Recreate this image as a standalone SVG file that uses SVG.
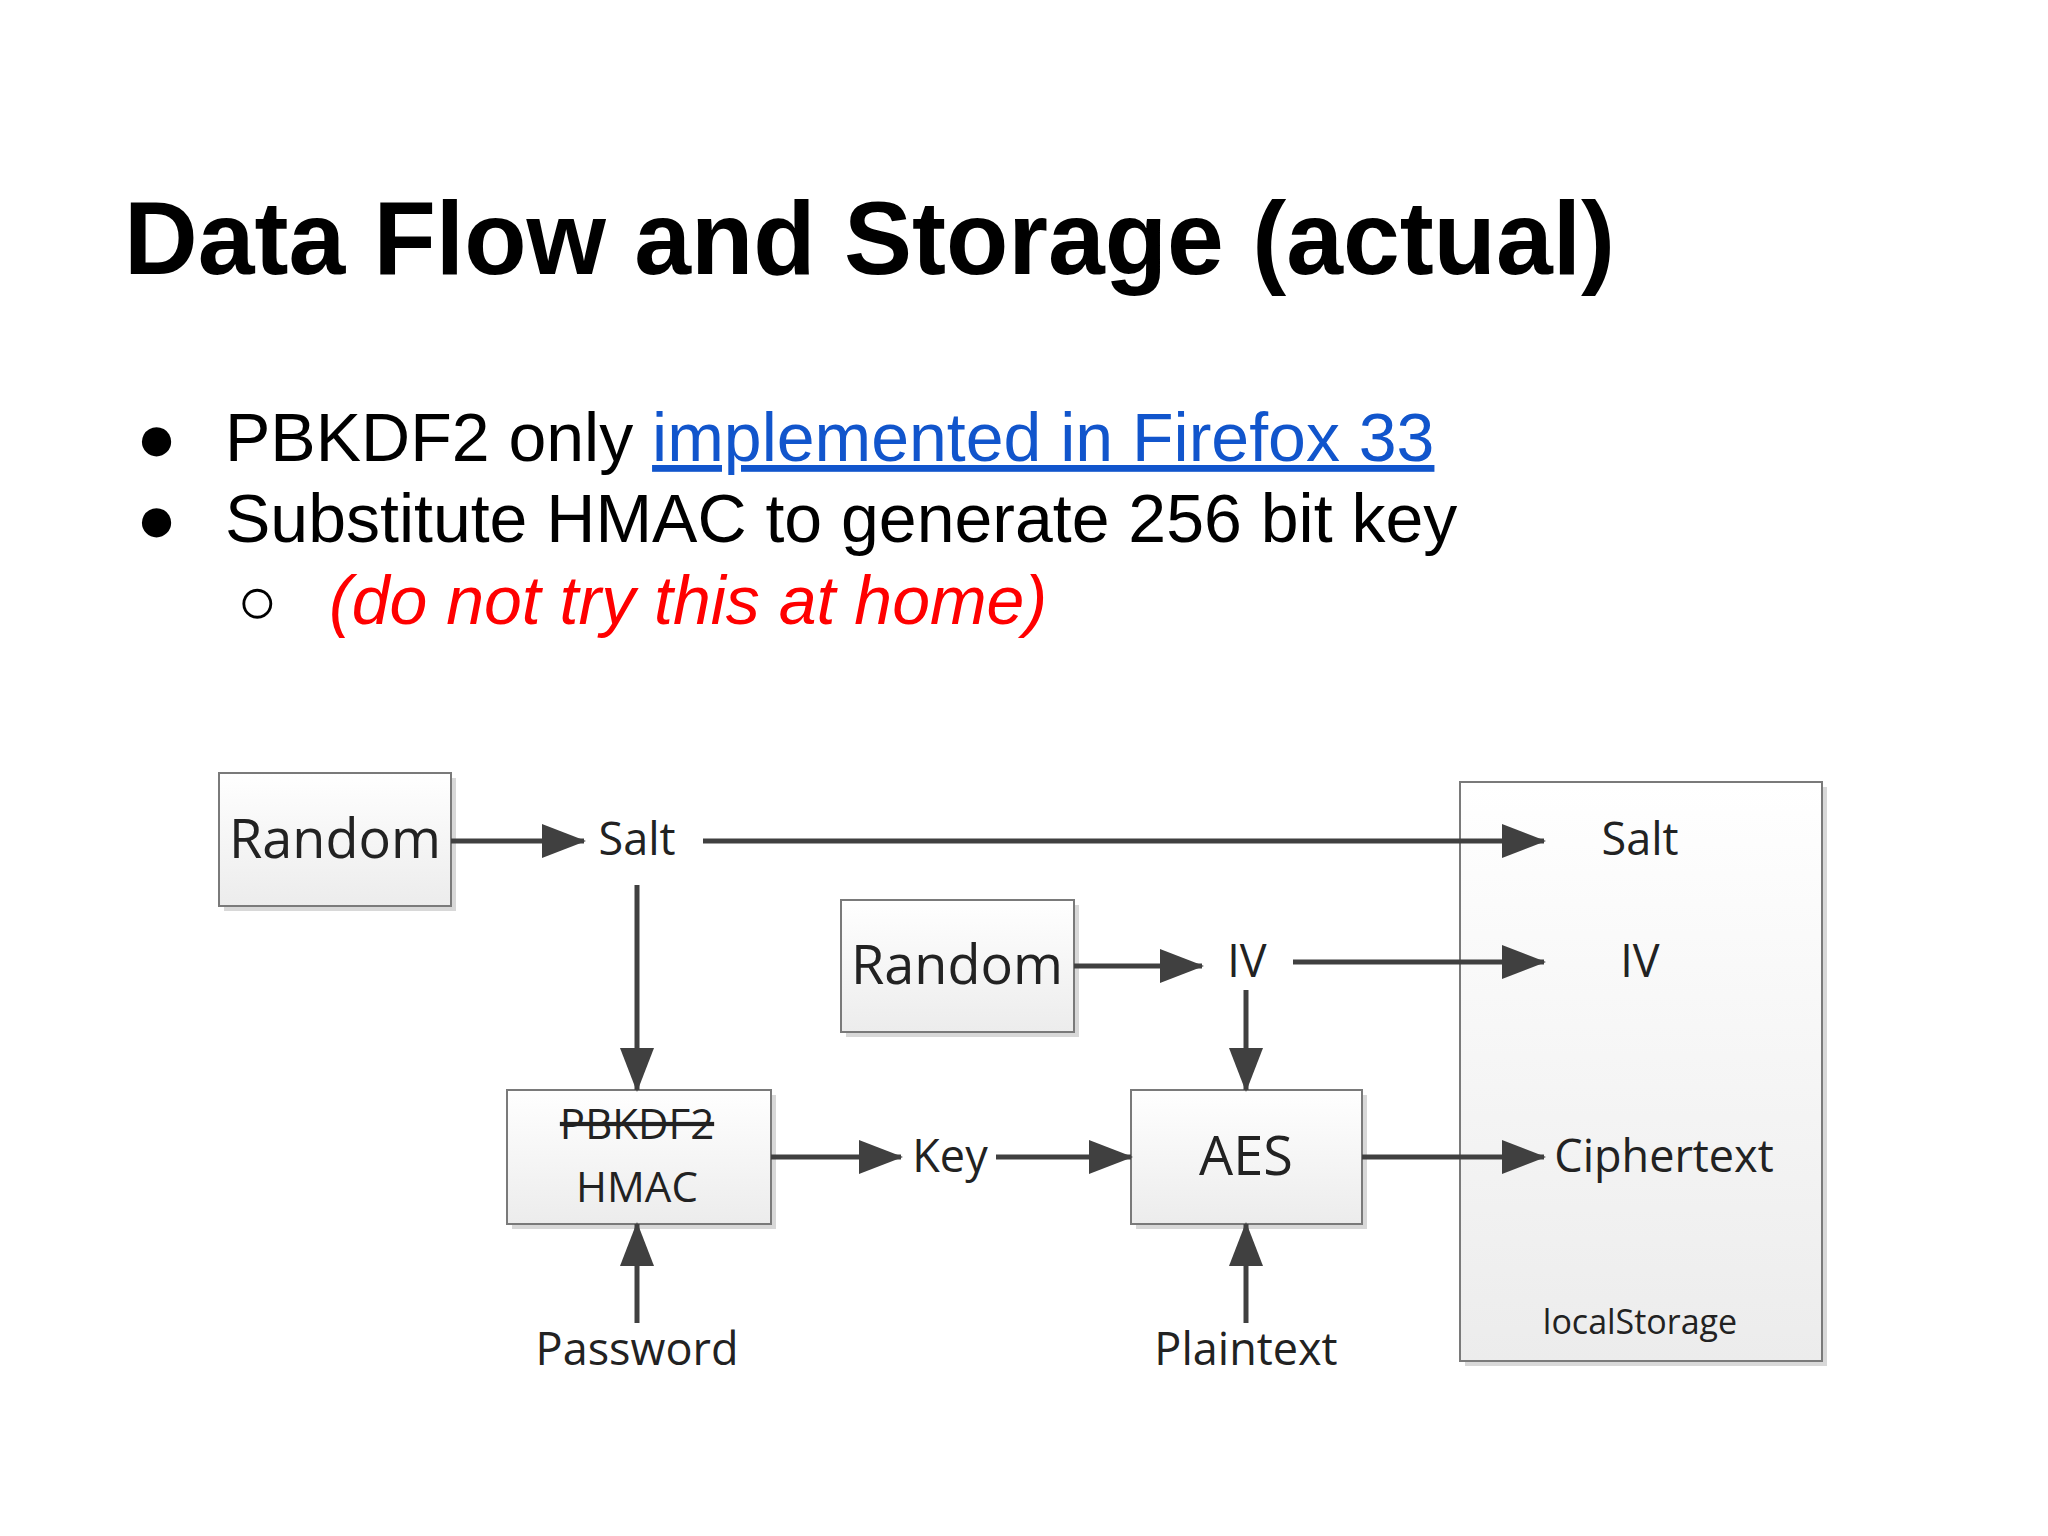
<svg xmlns="http://www.w3.org/2000/svg" width="2048" height="1536" viewBox="0 0 2048 1536">
<defs>
<linearGradient id="g" x1="0" y1="0" x2="0" y2="1"><stop offset="0" stop-color="#ffffff"/><stop offset="1" stop-color="#ececec"/></linearGradient>
<marker id="ah" markerUnits="userSpaceOnUse" markerWidth="44" markerHeight="34" refX="42" refY="17" orient="auto"><path d="M0,0 L44,17 L0,34 Z" fill="#404040"/></marker>
<style>
.box{fill:url(#g);stroke:#7a7a7a;stroke-width:2}
.sh{fill:#d8d8d8}
.c{stroke:#404040;stroke-width:5;fill:none;marker-end:url(#ah)}
.t{font-family:"Open Sans","DejaVu Sans",sans-serif;fill:#222;text-anchor:middle}
.b{font-family:"Liberation Sans",Arial,sans-serif;fill:#000}
</style>
</defs>
<rect width="2048" height="1536" fill="#fff"/>
<text class="b" x="124" y="274" font-size="104" font-weight="bold" textLength="1491" lengthAdjust="spacingAndGlyphs">Data Flow and Storage (actual)</text>
<g class="b" font-size="68">
<text x="136" y="461">●</text>
<text x="225" y="461">PBKDF2 only <tspan fill="#1155cc" text-decoration="underline">implemented in Firefox 33</tspan></text>
<text x="136" y="542">●</text>
<text x="225" y="542">Substitute HMAC to generate 256 bit key</text>
<text x="237" y="624">○</text>
<text x="329" y="624" fill="#ff0000" font-style="italic">(do not try this at home)</text>
</g>
<g id="storage"><rect class="sh" x="1465" y="787" width="362" height="579"/><rect class="box" x="1460" y="782" width="362" height="579"/>
<text class="t" x="1640" y="1334" font-size="34">localStorage</text>
<text class="t" x="1640" y="855" font-size="45">Salt</text>
<text class="t" x="1640" y="977" font-size="45">IV</text>
<text class="t" x="1664" y="1172" font-size="45">Ciphertext</text></g>
<g id="random1"><rect class="sh" x="224" y="778" width="232" height="133"/><rect class="box" x="219" y="773" width="232" height="133"/><text class="t" x="335" y="858" font-size="54">Random</text></g>
<g id="random2"><rect class="sh" x="846" y="905" width="233" height="132"/><rect class="box" x="841" y="900" width="233" height="132"/><text class="t" x="957" y="984" font-size="54">Random</text></g>
<g id="pbkdf2"><rect class="sh" x="512" y="1095" width="264" height="134"/><rect class="box" x="507" y="1090" width="264" height="134"/>
<text class="t" x="637" y="1139" font-size="42" text-decoration="line-through">PBKDF2</text>
<text class="t" x="637" y="1202" font-size="42" fill="#ff0000">HMAC</text></g>
<g id="aes"><rect class="sh" x="1136" y="1095" width="231" height="134"/><rect class="box" x="1131" y="1090" width="231" height="134"/><text class="t" x="1246" y="1175" font-size="54">AES</text></g>
<g id="labels">
<text class="t" x="637" y="855" font-size="45">Salt</text>
<text class="t" x="1247" y="977" font-size="45">IV</text>
<text class="t" x="950" y="1172" font-size="45">Key</text>
<text class="t" x="637" y="1365" font-size="45">Password</text>
<text class="t" x="1246" y="1365" font-size="45">Plaintext</text>
</g>
<g id="connectors">
<line class="c" x1="451" y1="841" x2="584" y2="841"/>
<line class="c" x1="703" y1="841" x2="1544" y2="841"/>
<line class="c" x1="1074" y1="966" x2="1202" y2="966"/>
<line class="c" x1="1293" y1="962" x2="1544" y2="962"/>
<line class="c" x1="637" y1="885" x2="637" y2="1090"/>
<line class="c" x1="1246" y1="990" x2="1246" y2="1090"/>
<line class="c" x1="771" y1="1157" x2="901" y2="1157"/>
<line class="c" x1="996" y1="1157" x2="1131" y2="1157"/>
<line class="c" x1="1362" y1="1157" x2="1544" y2="1157"/>
<line class="c" x1="637" y1="1323" x2="637" y2="1224"/>
<line class="c" x1="1246" y1="1323" x2="1246" y2="1224"/>
</g>
</svg>
